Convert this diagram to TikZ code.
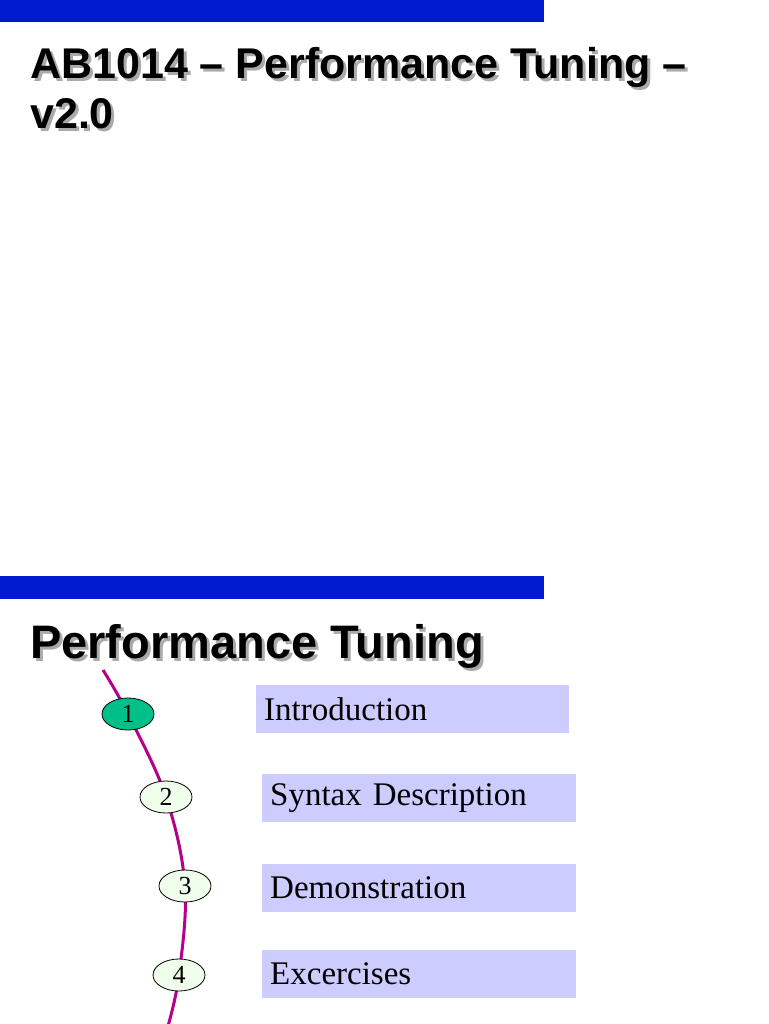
\documentclass[tikz,border=0pt]{standalone}
\usepackage{fontspec}
\setmainfont{Liberation Serif}
\newfontfamily\headfont{Liberation Sans}
\usetikzlibrary{shapes.geometric}
\definecolor{barblue}{RGB}{0,26,208}
\definecolor{shadowgray}{RGB}{170,170,170}
\definecolor{curvemag}{RGB}{180,0,140}
\definecolor{tealfill}{RGB}{0,192,138}
\definecolor{palefill}{RGB}{240,255,236}
\definecolor{lavender}{RGB}{204,204,255}
\newcommand{\shadowed}[1]{\makebox[0pt][l]{\hspace*{3pt}\raisebox{-3pt}{\textcolor{shadowgray}{#1}}}#1}
\tikzset{
  bar/.style={fill=barblue, draw=none},
  headtext/.style={anchor=base west, inner sep=0pt, font=\headfont\bfseries\fontsize{#1}{#1}\selectfont},
  stepnode/.style={ellipse, draw=black, line width=0.8pt, minimum width=52pt, minimum height=32pt, inner sep=0pt, font=\fontsize{26}{26}\selectfont, fill=palefill},
  topicbox/.style={anchor=north west, fill=lavender, draw=none, minimum height=48pt, inner xsep=8pt, inner ysep=0pt, align=left, font=\fontsize{33}{33}\selectfont},
  track/.style={draw=curvemag, line width=3pt}
}
\begin{document}
\begin{tikzpicture}[x=1pt,y=-1pt]
\useasboundingbox (0,0) rectangle (768,1024);
% blue bars
\fill[bar] (0,0) rectangle (544,22);
\fill[bar] (0,576) rectangle (544,599);
% slide 1 title
\node[headtext=43] (t1a) at (30,79) {\shadowed{AB1014 – Performance Tuning –}};
\node[headtext=43] (t1b) at (30,129) {\shadowed{v2.0}};
% slide 2 title
\node[headtext=47] (t2) at (30,658) {\shadowed{Performance Tuning}};
% track
\coordinate (c0) at (103,670);
\coordinate (p1) at (128,714);
\coordinate (p2) at (166,797);
\coordinate (p3) at (185,886);
\coordinate (p4) at (179,975);
\coordinate (c5) at (168,1026);
\draw[track] plot[smooth, tension=0.6] coordinates {(c0) (p1) (p2) (p3) (p4) (c5)};
% steps
\node[stepnode, fill=tealfill] (n1) at (p1) {1};
\node[stepnode] (n2) at (p2) {2};
\node[stepnode] (n3) at (p3) {3};
\node[stepnode] (n4) at (p4) {4};
% topics
\node[topicbox, text width=297pt] (b1) at (256,685) {Introduction};
\node[topicbox, text width=298pt] (b2) at (262,774) {Syntax Description};
\node[topicbox, text width=298pt] (b3) at (262,864) {Demonstration};
\node[topicbox, text width=298pt] (b4) at (262,950) {Excercises};
\end{tikzpicture}
\end{document}
